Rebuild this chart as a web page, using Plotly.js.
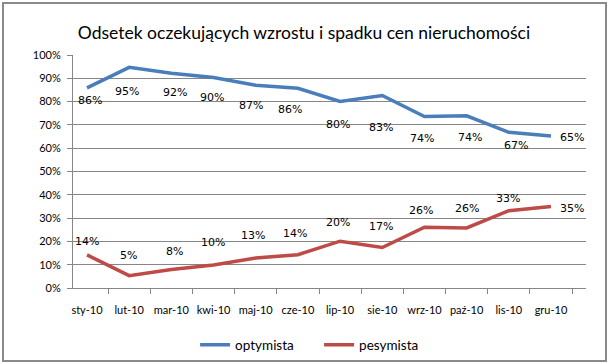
<!DOCTYPE html>
<html>
<head>
<meta charset="utf-8">
<script src="https://cdn.plot.ly/plotly-3.0.1.min.js"></script>
<style>
html,body{margin:0;padding:0;background:#fff;}
#wrap{position:relative;width:608px;height:364px;}
#chart{position:absolute;left:0;top:0;width:608px;height:364px;}
#frame{position:absolute;left:2px;top:2px;width:601px;height:356px;border:2px solid #8a8a8a;pointer-events:none;}
</style>
</head>
<body>
<div id="wrap"><div id="chart"></div><div id="frame"></div></div>
<script>
const categories = ["sty-10","lut-10","mar-10","kwi-10","maj-10","cze-10","lip-10","sie-10","wrz-10","paź-10","lis-10","gru-10"];
const optymista = [85.9, 94.7, 92.2, 90.3, 87.0, 85.7, 80.1, 82.6, 73.6, 73.9, 66.8, 65.2];
const pesymista = [14.2, 5.3, 7.9, 9.9, 12.9, 14.3, 20.1, 17.4, 26.1, 25.8, 33.2, 35.0];
const optymistaLabels = ["86%","95%","92%","90%","87%","86%","80%","83%","74%","74%","67%","65%"];
const pesymistaLabels = ["14%","5%","8%","10%","13%","14%","20%","17%","26%","26%","33%","35%"];
const yTickVals = [0,10,20,30,40,50,60,70,80,90,100];
const yTickText = ["0%","10%","20%","30%","40%","50%","60%","70%","80%","90%","100%"];

// label offsets in pixels (style only)
const optShiftX = [3,-2,4,-2,-5,-8,-2,-1,-2,3,7,21];
const optShiftY = [-13,-24,-19,-20,-20,-21,-23,-32,-22,-22,-13,-1];
const pesShiftX = [0,-1,3,-1,-3,-3,-2,-1,-3,0,-1,21];
const pesShiftY = [13,20,18,22,22,21,19,21,17,19,12,-2];

const blue = "#4A7EBB", red = "#BE4B48";
const labelFont = {family: "DejaVu Sans, Verdana, sans-serif", size: 11, color: "#000"};
const baseFont = "Lato, Carlito, sans-serif";

const annotations = [];
categories.forEach((c, i) => {
  annotations.push({x: c, y: optymista[i], xref: "x", yref: "y", text: optymistaLabels[i], showarrow: false,
    xshift: optShiftX[i], yshift: optShiftY[i], font: labelFont});
  annotations.push({x: c, y: pesymista[i], xref: "x", yref: "y", text: pesymistaLabels[i], showarrow: false,
    xshift: pesShiftX[i], yshift: pesShiftY[i], font: labelFont});
});

const traces = [
  {x: categories, y: optymista, type: "scatter", mode: "lines", name: "optymista",
   line: {color: blue, width: 3.5}},
  {x: categories, y: pesymista, type: "scatter", mode: "lines", name: "pesymista",
   line: {color: red, width: 3.5}}
];

const layout = {
  width: 608, height: 364,
  margin: {l: 73, r: 22, t: 55, b: 76, autoexpand: false},
  paper_bgcolor: "#fff", plot_bgcolor: "#fff",
  font: {family: baseFont, size: 12, color: "#000"},
  title: {text: "Odsetek oczekujących wzrostu i spadku cen nieruchomości",
          font: {family: baseFont, size: 17.5, color: "#000"},
          x: 0.5, xanchor: "center", y: 0.91, yanchor: "middle", automargin: false},
  xaxis: {type: "category", tickson: "boundaries", ticks: "outside", ticklen: 5, tickcolor: "#868686",
          showline: true, linecolor: "#868686", linewidth: 1, showgrid: false, zeroline: false,
          tickangle: 0, automargin: false, ticklabelstandoff: 12,
          tickfont: {family: baseFont, size: 11}, fixedrange: true},
  yaxis: {range: [0, 100], tickvals: yTickVals, ticktext: yTickText, ticks: "outside", ticklen: 5,
          tickcolor: "#868686", showline: true, linecolor: "#868686", linewidth: 1,
          showgrid: true, gridcolor: "#868686", gridwidth: 1, zeroline: false, automargin: false,
          tickfont: {family: baseFont, size: 11}, ticklabelstandoff: 4, fixedrange: true},
  legend: {orientation: "h", x: 0.238, xanchor: "left", y: -0.245, yanchor: "middle",
           font: {family: baseFont, size: 13.5}, entrywidth: 79, entrywidthmode: "pixels", itemwidth: 30},
  annotations: annotations,
  showlegend: true
};

Plotly.newPlot("chart", traces, layout, {displayModeBar: false, staticPlot: true});
</script>
</body>
</html>
